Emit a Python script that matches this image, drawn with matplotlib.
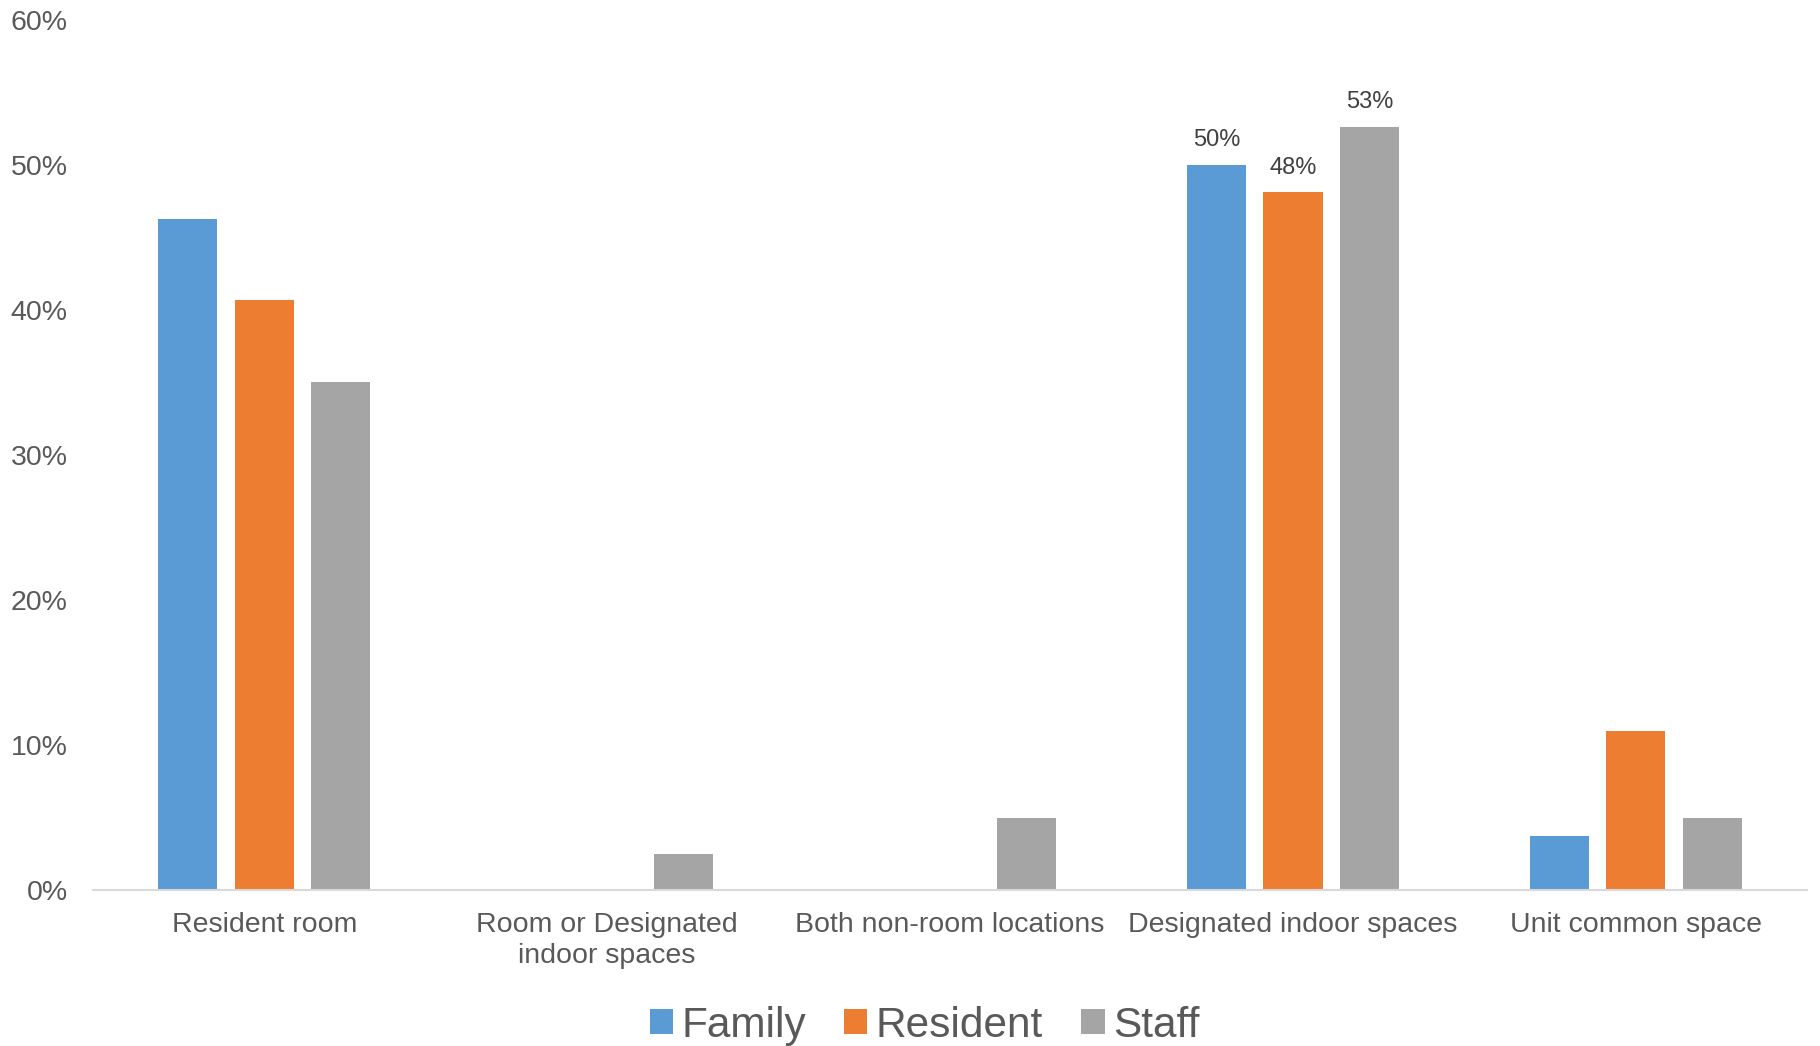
import numpy as np
import matplotlib.pyplot as plt
from matplotlib.ticker import FuncFormatter

categories = ['Resident room', 'Room or Designated\nindoor spaces',
              'Both non-room locations', 'Designated indoor spaces',
              'Unit common space']
family = [46.3, 0, 0, 50.0, 3.7]
resident = [40.7, 0, 0, 48.1, 11.0]
staff = [35.0, 2.5, 5.0, 52.6, 5.0]
series_names = ['Family', 'Resident', 'Staff']
# only the "Designated indoor spaces" group carries data labels
labelled_group = 3

plt.rcParams['font.family'] = ['Liberation Sans', 'DejaVu Sans']

fig = plt.figure(figsize=(18.2, 10.46), dpi=100)
ax = fig.add_axes([0.051, 0.149, 0.942, 0.832])

colors = ['#5B9BD5', '#ED7D31', '#A5A5A5']
x = np.arange(len(categories))
width = 0.173
offsets = [-0.223, 0, 0.223]

for vals, name, col, off in zip([family, resident, staff], series_names, colors, offsets):
    bars = ax.bar(x + off, vals, width, color=col, label=name)
    b = bars[labelled_group]
    ax.annotate('%d%%' % round(vals[labelled_group]),
                (b.get_x() + b.get_width() / 2, b.get_height()),
                xytext=(0, 10), textcoords='offset points',
                ha='center', va='bottom', fontsize=17, color='#404040')

ax.set_xlim(-0.5, len(categories) - 0.5)
ax.set_ylim(0, 60)
ax.set_yticks(np.arange(0, 61, 10))
ax.yaxis.set_major_formatter(FuncFormatter(lambda v, p: '%d%%' % v))
ax.set_xticks(x)
ax.set_xticklabels(categories, linespacing=1.25)

ax.tick_params(axis='both', length=0, labelsize=20.5, colors='#595959')
ax.tick_params(axis='x', pad=16)
ax.tick_params(axis='y', pad=18)

for s in ['top', 'right', 'left']:
    ax.spines[s].set_visible(False)
ax.spines['bottom'].set_color('#D9D9D9')
ax.spines['bottom'].set_linewidth(1.5)

leg = fig.legend(loc='lower center', bbox_to_anchor=(0.508, -0.036), ncol=3,
                 frameon=False, fontsize=30.5, handlelength=0.55,
                 handleheight=0.55, handletextpad=0.2, columnspacing=0.9)
for t in leg.get_texts():
    t.set_color('#595959')

fig.savefig('out.png', dpi=100)
